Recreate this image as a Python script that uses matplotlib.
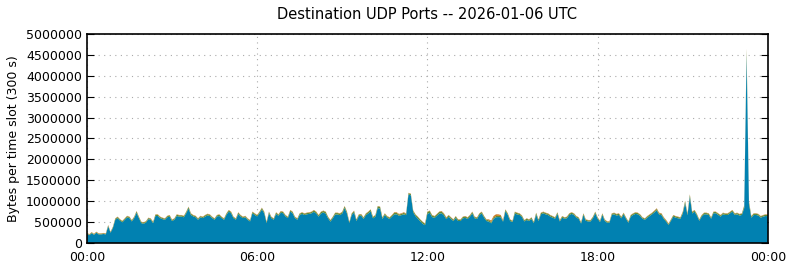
import numpy as np
import matplotlib.pyplot as plt

# total bytes per 5-minute slot (in thousands)
total_k = [
    250, 210, 260, 220, 270, 230, 230, 240, 230, 430, 270, 390,
    590, 630, 570, 530, 590, 650, 630, 550, 630, 765, 630, 510,
    495, 525, 605, 590, 510, 685, 685, 630, 605, 590, 650, 670,
    560, 590, 685, 670, 670, 650, 750, 870, 710, 670, 650, 590,
    650, 630, 670, 700, 685, 630, 590, 670, 685, 630, 590, 710,
    790, 750, 630, 590, 735, 670, 630, 650, 590, 550, 750, 710,
    670, 750, 845, 750, 510, 750, 630, 590, 735, 685, 765, 750,
    670, 630, 790, 750, 630, 590, 710, 735, 710, 725, 735, 750,
    790, 750, 670, 750, 775, 750, 630, 550, 630, 725, 725, 710,
    750, 885, 750, 510, 710, 775, 565, 685, 695, 615, 710, 750,
    805, 630, 670, 885, 870, 615, 710, 645, 615, 670, 735, 735,
    695, 710, 735, 710, 1200, 1180, 780, 685, 630, 565, 510, 470,
    750, 775, 670, 645, 695, 750, 765, 710, 615, 670, 615, 565,
    645, 565, 565, 630, 645, 615, 670, 750, 630, 615, 710, 750,
    645, 565, 565, 535, 645, 685, 685, 670, 550, 805, 710, 565,
    535, 750, 725, 710, 660, 550, 590, 565, 615, 510, 725, 565,
    725, 750, 725, 710, 670, 645, 615, 735, 550, 645, 615, 630,
    710, 735, 710, 645, 615, 500, 710, 565, 550, 550, 630, 750,
    615, 535, 710, 565, 520, 520, 710, 725, 695, 710, 630, 725,
    615, 520, 670, 710, 735, 725, 685, 615, 590, 645, 685, 725,
    775, 830, 725, 710, 615, 550, 470, 565, 670, 645, 630, 615,
    750, 1010, 710, 1165, 750, 790, 695, 565, 670, 725, 725, 710,
    615, 750, 750, 710, 670, 725, 710, 710, 750, 790, 710, 725,
    695, 710, 900, 4650, 1000, 645, 710, 710, 695, 645, 670, 685,
    680,
]

green_k = [
    15, 15, 15, 15, 15, 15, 15, 15, 15, 20, 15, 20, 25, 25, 25, 25, 25, 30, 25, 25, 25, 30, 25, 25,
    25, 25, 25, 25, 25, 30, 30, 25, 25, 25, 25, 30, 25, 25, 30, 30, 30, 25, 30, 35, 30, 25, 25, 25,
    25, 25, 30, 30, 30, 25, 25, 25, 30, 25, 25, 30, 30, 30, 25, 25, 30, 25, 25, 25, 25, 25, 30, 30,
    25, 30, 35, 30, 25, 30, 25, 25, 30, 25, 30, 30, 25, 25, 30, 30, 25, 25, 30, 30, 30, 30, 30, 30,
    35, 35, 30, 35, 35, 40, 30, 30, 30, 35, 35, 35, 35, 40, 35, 25, 30, 35, 30, 30, 30, 30, 35, 35,
    40, 30, 30, 40, 40, 30, 30, 30, 30, 30, 35, 35, 30, 30, 35, 30, 30, 30, 35, 35, 40, 40, 40, 35,
    45, 45, 40, 35, 35, 40, 40, 35, 30, 35, 30, 30, 35, 30, 30, 30, 35, 30, 30, 35, 30, 30, 30, 35,
    30, 30, 30, 30, 30, 30, 30, 30, 25, 35, 30, 30, 25, 35, 35, 30, 30, 25, 30, 30, 30, 25, 35, 30,
    30, 30, 30, 30, 30, 30, 25, 30, 25, 30, 25, 30, 30, 30, 30, 30, 25, 25, 30, 25, 25, 25, 30, 30,
    25, 25, 30, 25, 25, 25, 30, 30, 30, 30, 30, 30, 25, 25, 30, 30, 30, 30, 30, 25, 25, 30, 30, 30,
    30, 35, 30, 30, 25, 25, 25, 25, 30, 30, 30, 25, 30, 40, 30, 45, 30, 30, 30, 25, 30, 30, 30, 30,
    25, 30, 30, 30, 30, 30, 30, 30, 30, 30, 30, 30, 30, 30, 50, 150, 50, 30, 30, 30, 30, 30, 30, 30,
    30,
]

orange_k = [
    10, 10, 10, 10, 10, 10, 10, 10, 10, 10, 10, 10, 10, 10, 10, 10, 10, 10, 10, 10, 10, 10, 10, 10,
    10, 10, 10, 10, 10, 10, 10, 10, 10, 10, 10, 10, 10, 10, 10, 10, 10, 10, 10, 10, 10, 10, 10, 10,
    10, 10, 10, 10, 10, 10, 10, 10, 10, 10, 10, 10, 10, 10, 10, 10, 10, 10, 10, 10, 10, 10, 10, 10,
    10, 10, 10, 10, 10, 10, 10, 10, 10, 10, 10, 10, 10, 10, 10, 10, 10, 10, 10, 10, 10, 10, 10, 10,
    10, 10, 10, 10, 10, 10, 10, 10, 10, 10, 10, 10, 10, 10, 10, 10, 10, 10, 10, 10, 10, 10, 10, 10,
    10, 10, 10, 10, 10, 10, 10, 10, 10, 10, 15, 15, 15, 15, 15, 15, 10, 10, 10, 10, 10, 10, 10, 10,
    10, 10, 10, 10, 10, 10, 15, 15, 15, 10, 10, 10, 10, 10, 10, 10, 10, 10, 10, 10, 10, 10, 10, 10,
    10, 10, 25, 35, 40, 40, 35, 25, 15, 10, 10, 10, 10, 10, 10, 10, 10, 10, 10, 10, 10, 10, 10, 10,
    10, 10, 10, 10, 10, 10, 10, 10, 10, 10, 10, 10, 10, 10, 10, 10, 10, 10, 10, 10, 10, 10, 10, 10,
    10, 10, 10, 10, 10, 10, 10, 10, 10, 10, 10, 10, 10, 10, 10, 10, 10, 10, 10, 10, 10, 10, 10, 10,
    15, 15, 15, 15, 15, 15, 15, 10, 10, 10, 10, 10, 15, 15, 15, 15, 15, 10, 10, 10, 10, 10, 10, 10,
    10, 10, 10, 10, 10, 10, 10, 10, 10, 10, 10, 10, 10, 10, 15, 30, 15, 10, 10, 10, 10, 10, 10, 10,
    10,
]

hour_ticks = [0, 6, 12, 18, 24]
hour_labels = ["00:00", "06:00", "12:00", "18:00", "00:00"]

total = np.array(total_k) * 1000.0
green = np.array(green_k) * 1000.0
orange = np.array(orange_k) * 1000.0
blue = total - green - orange
hours = np.arange(len(total)) * 300 / 3600.0

fig = plt.figure(figsize=(7.9, 2.67), dpi=100)
ax = fig.add_axes([0.110, 0.090, 0.862, 0.783])

ax.stackplot(hours, blue, green, orange,
             colors=["#0181b1", "#5b8c3a", "#c8781f"], linewidth=0)

ax.set_xlim(0, 24)
ax.set_ylim(0, 5000000)
ax.set_xticks(hour_ticks)
ax.set_xticklabels(hour_labels)
ax.set_yticks(np.arange(0, 5000001, 500000))
ax.ticklabel_format(axis="y", style="plain")

ax.set_axisbelow(True)
ax.grid(True, linestyle=(0, (1, 4)), color="#aaaaaa", linewidth=0.8)
ax.tick_params(axis="both", direction="in", labelsize=9, length=5)
ax.tick_params(axis="y", right=True)
ax.tick_params(axis="x", length=0, pad=6)
for s in ax.spines.values():
    s.set_linewidth(1.2)

ax.set_ylabel("Bytes per time slot (300 s)", fontsize=9)
ax.set_title("Destination UDP Ports -- 2026-01-06 UTC", fontsize=10.5, pad=11)

fig.savefig("out.png", dpi=100)
